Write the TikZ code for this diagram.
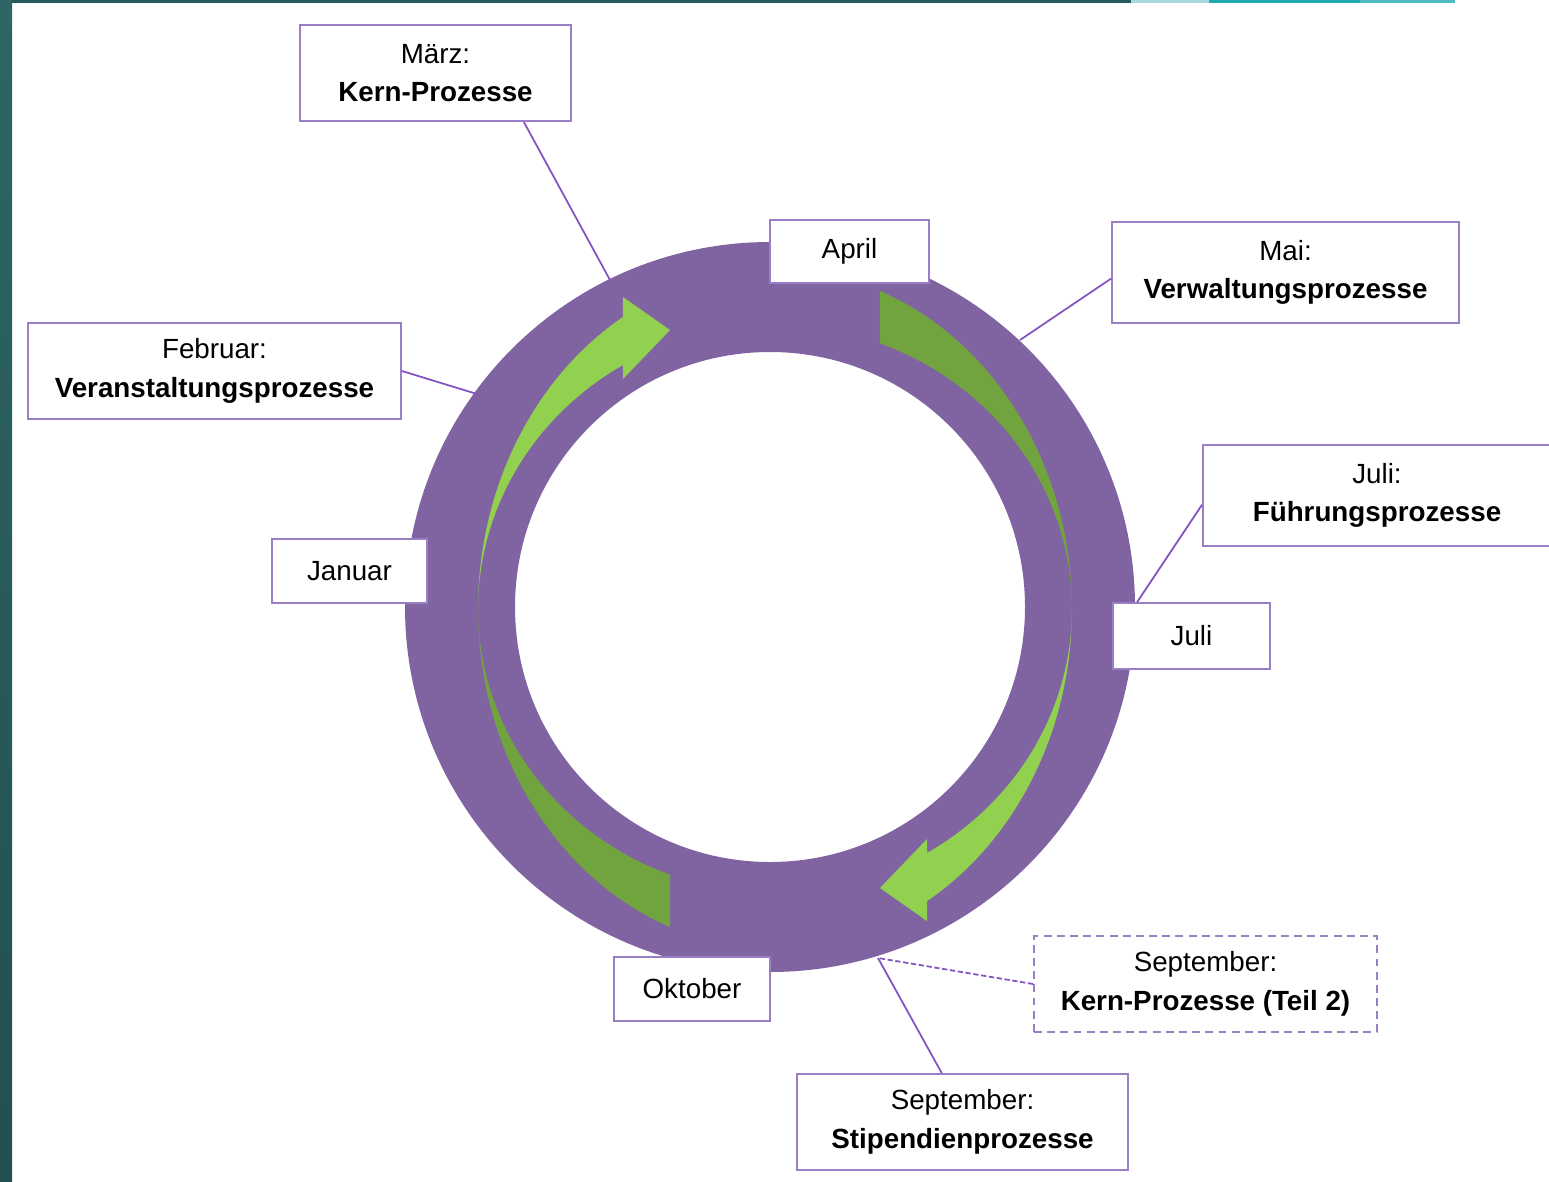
\documentclass[tikz,border=0pt]{standalone}
\usepackage{fontspec}
\setmainfont{Liberation Sans}
\definecolor{ringcol}{HTML}{8064A2}
\definecolor{boxcol}{HTML}{9A7FC7}
\definecolor{conncol}{HTML}{8452C2}
\definecolor{greenlight}{HTML}{92D050}
\definecolor{greendark}{HTML}{71A43E}
\definecolor{tealtop}{HTML}{2D6665}
\definecolor{tealbot}{HTML}{234F50}
\definecolor{tealdark}{HTML}{275A5A}
\definecolor{tealpale}{HTML}{A8DADB}
\definecolor{tealmid}{HTML}{1FA9B0}
\definecolor{teallight}{HTML}{4FBCC4}

\begin{document}
\begin{tikzpicture}[x=0.02cm, y=-0.02cm,
	box/.style={draw=boxcol, line width=1.1pt, fill=white, align=center, inner sep=0pt,
		font=\fontsize{15.8}{22}\selectfont},
	conn/.style={draw=conncol, line width=1pt}]
	\useasboundingbox (0,0) rectangle (1549,1181);
	% slide frame
	\shade[top color=tealtop, bottom color=tealbot] (0,0) rectangle (12,1181);
	\fill[tealdark] (12,0) rectangle (1131,3);
	\fill[tealpale] (1131,0) rectangle (1209,3);
	\fill[tealmid] (1209,0) rectangle (1360,3);
	\fill[teallight] (1360,0) rectangle (1455,3);

	% ring with the two curved arrows
	\fill[ringcol, even odd rule] (770,607) circle[radius=365] (770,607) circle[radius=255];
	\foreach \r in {0,180}{
		\begin{scope}[rotate around={\r:(775,609)}]
			\fill[greendark] plot[domain=180:249.3, variable=\t, samples=40] ({775+297*cos(\t)},{609-340*sin(\t)})
				-- plot[domain=249.3:180, variable=\t, samples=40] ({775+297*cos(\t)},{609-284*sin(\t)}) -- cycle;
			\fill[greenlight] plot[domain=180:120.8, variable=\t, samples=40] ({775+297*cos(\t)},{609-340*sin(\t)})
				-- (623,297) -- (670,330) -- (623,379)
				-- plot[domain=120.8:180, variable=\t, samples=40] ({775+297*cos(\t)},{609-284*sin(\t)}) -- cycle;
		\end{scope}
	}

	% month boxes
	\node[box, minimum width=5.42cm, minimum height=1.92cm] (maerz) at (435.5,73) {März:\\\textbf{Kern-Prozesse}};
	\node[box, minimum width=3.18cm, minimum height=1.26cm] (april) at (849.5,251.5) {April};
	\node[box, minimum width=6.94cm, minimum height=2.02cm] (mai) at (1285.5,272.5) {Mai:\\\textbf{Verwaltungsprozesse}};
	\node[box, minimum width=7.46cm, minimum height=1.92cm] (februar) at (214.5,371) {Februar:\\\textbf{Veranstaltungsprozesse}};
	\node[box, minimum width=3.10cm, minimum height=1.28cm] (januar) at (349.5,571) {Januar};
	\node[box, minimum width=6.96cm, minimum height=2.02cm] (fuehrung) at (1377,495.5) {Juli:\\\textbf{Führungsprozesse}};
	\node[box, minimum width=3.14cm, minimum height=1.32cm] (juli) at (1191.5,636) {Juli};
	\node[box, minimum width=3.12cm, minimum height=1.28cm] (oktober) at (692,989) {Oktober};
	\node[box, dash pattern=on 4.5pt off 3pt, minimum width=6.86cm, minimum height=1.92cm] (septKern) at (1205.5,984) {September:\\\textbf{Kern-Prozesse (Teil 2)}};
	\node[box, minimum width=6.62cm, minimum height=1.92cm] (septStip) at (962.5,1122) {September:\\\textbf{Stipendienprozesse}};

	% points on the ring
	\coordinate (maerzRing) at (610,280);
	\coordinate (maiRing) at (1020,340);
	\coordinate (febRing) at (477,394);
	\coordinate (septRing) at (878,958);

	\draw[conn] (maerz.-29) -- (maerzRing);
	\draw[conn] (mai.182) -- (maiRing);
	\draw[conn] (februar.east) -- (febRing);
	\draw[conn] (fuehrung.183) -- (juli.148);
	\draw[conn] (septStip.113) -- (septRing);
	\draw[conn, dash pattern=on 3pt off 1.5pt] (septKern.west) -- (septRing);
\end{tikzpicture}
\end{document}
